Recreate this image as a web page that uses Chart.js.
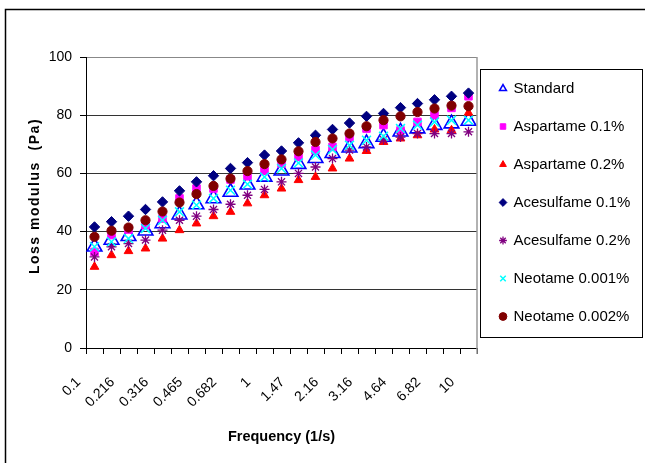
<!DOCTYPE html>
<html>
<head>
<meta charset="utf-8">
<script src="https://cdn.jsdelivr.net/npm/chart.js@4.4.1/dist/chart.umd.min.js"></script>
<style>
  html, body { margin: 0; padding: 0; background: #fff; }
  #wrap { position: relative; width: 645px; height: 463px; }
</style>
</head>
<body>
<div id="wrap"><canvas id="chart"></canvas></div>
<script>
// frequency categories (1/s), every other one is labelled
const frequencies = ["0.1", "0.147", "0.216", "0.261", "0.316", "0.383", "0.465", "0.562", "0.682", "0.825",
  "1", "1.21", "1.47", "1.78", "2.16", "2.61", "3.16", "3.83", "4.64", "5.62", "6.82", "8.25", "10"];

// loss modulus (Pa)
const standard     = [34.8, 37.1, 38.4, 40.3, 42.8, 45.8, 49.3, 51.4, 53.6, 56.1, 58.8, 60.9, 63.2, 65.2, 66.9, 68.8, 70.3, 72.5, 74.3, 75.4, 76.6, 77.1, 78.0];
const aspartame01  = [33.0, 38.8, 40.7, 42.2, 44.5, 51.4, 54.8, 54.8, 57.9, 59.0, 60.9, 63.4, 65.7, 68.0, 69.1, 72.5, 75.4, 76.6, 74.8, 77.7, 80.0, 82.5, 86.5];
const aspartame02  = [27.9, 31.9, 33.3, 34.2, 37.6, 40.5, 42.8, 45.3, 46.8, 49.7, 52.5, 54.8, 57.7, 58.8, 61.7, 65.1, 67.7, 70.8, 72.0, 73.1, 75.1, 74.8, 80.8];
const acesulfame01 = [41.6, 43.4, 45.3, 47.6, 50.2, 54.0, 57.1, 59.2, 61.7, 63.7, 66.3, 67.7, 70.5, 73.1, 75.1, 77.3, 79.6, 80.6, 82.6, 84.0, 85.3, 86.5, 87.6];
const acesulfame02 = [31.3, 34.8, 35.9, 37.1, 40.5, 43.9, 45.3, 47.6, 49.4, 52.5, 54.5, 57.1, 60.0, 62.2, 65.1, 68.0, 69.1, 71.6, 72.5, 73.7, 73.7, 73.7, 74.3];
const neotame0001  = [34.8, 36.5, 37.6, 41.1, 43.9, 46.8, 49.1, 51.4, 54.2, 56.3, 58.8, 61.7, 63.6, 66.3, 68.2, 69.7, 71.4, 72.8, 75.4, 76.6, 77.7, 78.3, 78.3];
const neotame0002  = [38.2, 40.3, 41.4, 43.9, 46.9, 50.0, 52.9, 55.7, 58.2, 60.8, 63.2, 64.8, 67.6, 70.8, 72.0, 73.7, 76.2, 78.3, 79.6, 81.1, 82.3, 83.3, 83.1];

const yTitle = "Loss modulus  (Pa)";

const FONT = "'Liberation Sans', Arial, sans-serif";

function series(label, data, style, fill, stroke, radius, width, order) {
  return {
    label: label,
    data: data,
    showLine: false,
    pointStyle: style,
    pointRadius: radius,
    pointHoverRadius: radius,
    pointBackgroundColor: fill,
    pointBorderColor: stroke,
    pointBorderWidth: width,
    backgroundColor: fill,
    borderColor: stroke,
    borderWidth: width,
    order: order
  };
}

const datasets = [
  series("Standard", standard, "triangle", "rgba(0,0,0,0)", "#0000FF", 8.5, 1.6, 7),
  series("Aspartame 0.1%", aspartame01, "rect", "#FF00FF", "#FF00FF", 5.3, 1, 6),
  series("Aspartame 0.2%", aspartame02, "triangle", "#FF0000", "#FF0000", 5, 1, 5),
  series("Acesulfame 0.1%", acesulfame01, "rectRot", "#000080", "#000080", 5.2, 1, 4),
  series("Acesulfame 0.2%", acesulfame02, "star", "#800080", "#800080", 5, 1.3, 3),
  series("Neotame 0.001%", neotame0001, "crossRot", "#00FFFF", "#00FFFF", 6.3, 1.5, 2),
  series("Neotame 0.002%", neotame0002, "circle", "#800000", "#800000", 4.6, 1, 1)
];

// outer frame, legend border, right plot edge and the spaced y title
const decorations = {
  id: "decorations",
  afterDraw(chart) {
    const ctx = chart.ctx;
    const area = chart.chartArea;
    const lg = chart.legend;
    ctx.save();
    ctx.strokeStyle = "#000";
    ctx.lineWidth = 1.5;
    ctx.strokeRect(5.5, 9.5, 700, 500);

    ctx.lineWidth = 1;
    ctx.strokeRect(Math.round(lg.left) + 3.5, Math.round(lg.top) + 12.5, 162, 268);

    ctx.strokeStyle = "#999";
    ctx.lineWidth = 1.5;
    ctx.beginPath();
    ctx.moveTo(area.right, area.top);
    ctx.lineTo(area.right, area.bottom + 6);
    ctx.stroke();

    ctx.translate(35, 196);
    ctx.rotate(-Math.PI / 2);
    ctx.letterSpacing = "1.5px";
    ctx.font = "bold 14px " + FONT;
    ctx.fillStyle = "#000";
    ctx.textAlign = "center";
    ctx.textBaseline = "middle";
    ctx.fillText(yTitle, 0, 0);
    ctx.restore();
  }
};

new Chart(document.getElementById("chart"), {
  type: "line",
  data: { labels: frequencies, datasets: datasets },
  plugins: [decorations],
  options: {
    responsive: true,
    maintainAspectRatio: false,
    animation: false,
    layout: { padding: { top: 57, right: 9, bottom: 0, left: 0 } },
    plugins: {
      tooltip: { enabled: false },
      legend: {
        position: "right",
        fullSize: false,
        labels: {
          usePointStyle: true,
          boxWidth: 6,
          boxHeight: 5.5,
          padding: 23,
          color: "#000",
          font: { size: 15, family: FONT },
          sort: (a, b) => a.datasetIndex - b.datasetIndex
        }
      }
    },
    scales: {
      x: {
        type: "category",
        offset: true,
        afterFit: (scale) => { scale.height = 115; },
        border: { color: "#000", width: 1 },
        grid: {
          offset: true,
          drawOnChartArea: false,
          drawTicks: true,
          tickLength: 6,
          color: "#000",
          tickColor: "#000"
        },
        ticks: {
          autoSkip: false,
          minRotation: 45,
          maxRotation: 45,
          padding: 20,
          labelOffset: -16,
          color: "#000",
          font: { size: 14, family: FONT },
          callback: function (val, idx) {
            return idx % 2 === 0 ? this.getLabelForValue(val) : "";
          }
        },
        title: {
          display: true,
          text: "Frequency (1/s)",
          color: "#000",
          font: { size: 14.5, weight: "bold", family: FONT },
          padding: { top: 0, bottom: 17 }
        }
      },
      y: {
        min: 0,
        max: 100,
        afterFit: (scale) => { scale.width = 86; },
        border: { color: "#000", width: 1 },
        grid: {
          color: (c) => (c.tick && c.tick.value === 100 ? "#888" : "#333"),
          tickColor: "#000",
          tickLength: 6,
          lineWidth: 1
        },
        ticks: {
          stepSize: 20,
          padding: 8,
          color: "#000",
          font: { size: 14, family: FONT }
        }
      }
    }
  }
});
</script>
</body>
</html>
